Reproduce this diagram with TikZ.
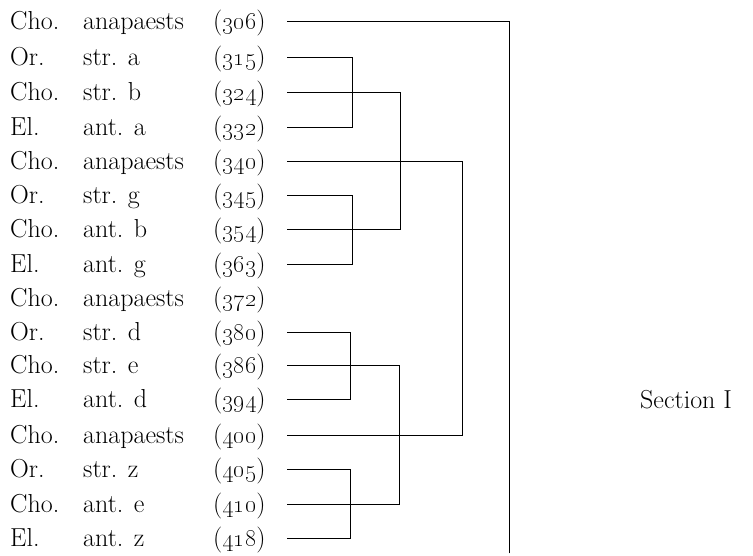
\documentclass[tikz,border=0pt]{standalone}
\begin{document}
\begin{tikzpicture}[x=1pt,y=-1pt,
  lbl/.style={anchor=base west,inner sep=0pt,font=\fontsize{26}{30}\selectfont},
  link/.style={line width=0.9pt,line cap=rect}]
\useasboundingbox (0,0) rectangle (753,555);
\foreach \i/\y/\a/\b/\n in {
  1/21/Cho./anapaests/306,
  2/57/Or./str. a/315,
  3/92/Cho./str. b/324,
  4/127/El./ant. a/332,
  5/161/Cho./anapaests/340,
  6/195/Or./str. g/345,
  7/229/Cho./ant. b/354,
  8/264/El./ant. g/363,
  9/298/Cho./anapaests/372,
  10/332/Or./str. d/380,
  11/365/Cho./str. e/386,
  12/399/El./ant. d/394,
  13/435/Cho./anapaests/400,
  14/469/Or./str. z/405,
  15/504/Cho./ant. e/410,
  16/538/El./ant. z/418}{
  \node[lbl] (a\i) at (10,\y+8.5) {\a};
  \node[lbl] (b\i) at (83,\y+8.5) {\b};
  \node[lbl] (n\i) at (213,\y+8.5) {(\oldstylenums{\n})};
  \coordinate (s\i) at (287,\y);
}
\node[lbl] (sec) at (640,408.5) {Section I};
% vertical positions of joins
\coordinate (vA) at (352,0);
\coordinate (vC) at (350,0);
\coordinate (vB) at (400,0);
\coordinate (vD) at (399,0);
\coordinate (vE) at (462,0);
\coordinate (vF) at (509,0);
\coordinate (bot) at (509,553);
% group 315-332
\draw[link] (s2) -- (s2 -| vA) -- (s4 -| vA) -- (s4);
\draw[link] (s6) -- (s6 -| vA) -- (s8 -| vA) -- (s8);
\draw[link] (s3) -- (s3 -| vB) -- (s7 -| vB) -- (s7);
% group 380-418
\draw[link] (s10) -- (s10 -| vC) -- (s12 -| vC) -- (s12);
\draw[link] (s14) -- (s14 -| vC) -- (s16 -| vC) -- (s16);
\draw[link] (s11) -- (s11 -| vD) -- (s15 -| vD) -- (s15);
% anapaests 340 and 400
\draw[link] (s5) -- (s5 -| vE) -- (s13 -| vE) -- (s13);
% anapaests 306
\draw[link] (s1) -- (s1 -| vF) -- (bot);
\end{tikzpicture}
\end{document}
